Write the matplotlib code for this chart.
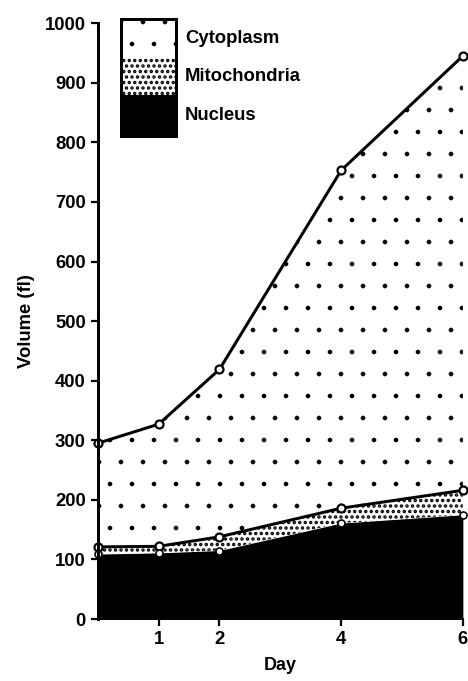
import numpy as np
import matplotlib.pyplot as plt
from matplotlib.patches import Rectangle

plt.rcParams['font.family'] = ['Liberation Sans', 'DejaVu Sans']
plt.rcParams['font.weight'] = 'bold'
plt.rcParams['hatch.color'] = 'black'

# dpi chosen so the '.' hatch spacing matches the sparse stipple of the original
DPI = 132


def px(p):
    # pixels -> points at this dpi
    return p * 72.0 / DPI


# --- data ---
days = [0, 1, 2, 4, 6]
nucleus = [109, 111, 115, 161, 175]
mito_top = [121, 122, 138, 186, 216]
total = [295, 327, 419, 753, 945]

x_ticks = [1, 2, 4, 6]
y_ticks = list(range(0, 1001, 100))

fig = plt.figure(figsize=(468 / DPI, 681 / DPI), dpi=DPI)
ax = fig.add_axes([0.209, 0.091, 0.780, 0.875])


def hatch_lw(artist, lw):
    if hasattr(artist, 'set_hatch_linewidth'):
        artist.set_hatch_linewidth(lw)


CYTO_HLW = px(0.15)
MITO_HLW = px(2.3)

# stacked areas
ax.fill_between(days, 0, nucleus, facecolor='black', edgecolor='black', lw=0)
with plt.rc_context({'hatch.linewidth': MITO_HLW}):
    mito = ax.fill_between(days, nucleus, mito_top, facecolor='white',
                           edgecolor='black', hatch='....', lw=0)
hatch_lw(mito, MITO_HLW)
with plt.rc_context({'hatch.linewidth': CYTO_HLW}):
    cyto = ax.fill_between(days, mito_top, total, facecolor='white',
                           edgecolor='black', hatch='.', lw=0)
hatch_lw(cyto, CYTO_HLW)

mk = dict(marker='o', ms=px(8), mfc='white', mec='black', mew=px(2.2), clip_on=False)
ax.plot(days, total, color='black', lw=px(3), **mk)
ax.plot(days, mito_top, color='black', lw=px(3), **mk)
ax.plot(days, nucleus, color='black', lw=0, marker='o', ms=px(7), mfc='white',
        mec='black', mew=px(1.6), clip_on=False)

ax.set_xlim(0, 6)
ax.set_ylim(0, 1000)
ax.set_xticks(x_ticks)
ax.set_yticks(y_ticks)
ax.tick_params(direction='out', length=px(7), width=px(2.2), labelsize=px(18.5),
               pad=px(5))
for s in ['top', 'right']:
    ax.spines[s].set_visible(False)
ax.spines['left'].set_linewidth(px(3))
ax.spines['bottom'].set_linewidth(px(2))
ax.set_xlabel('Day', fontsize=px(18), fontweight='bold', labelpad=px(9))
ax.set_ylabel('Volume (fl)', fontsize=px(18.5), fontweight='bold', labelpad=px(10))

# legend drawn as stacked swatches
leg_items = ['Cytoplasm', 'Mitochondria', 'Nucleus']
leg_hatch = ['.', '....', None]
leg_hlw = [CYTO_HLW, MITO_HLW, px(1)]
leg_face = ['white', 'white', 'black']
x0, w = 121 / 468, 55 / 468
tops = [19, 58, 95, 136]
for i, lab in enumerate(leg_items):
    y1 = 1 - tops[i + 1] / 681
    h = (tops[i + 1] - tops[i]) / 681
    with plt.rc_context({'hatch.linewidth': leg_hlw[i]}):
        r = Rectangle((x0, y1), w, h, transform=fig.transFigure,
                      facecolor=leg_face[i], edgecolor='black',
                      hatch=leg_hatch[i], lw=0)
    hatch_lw(r, leg_hlw[i])
    fig.add_artist(r)
    fig.text(185 / 468, 1 - (tops[i] + tops[i + 1]) / 2 / 681, lab,
             fontsize=px(18.5), va='center', ha='left')
fig.add_artist(Rectangle((x0, 1 - 136 / 681), w, 117 / 681,
                         transform=fig.transFigure, facecolor='none',
                         edgecolor='black', lw=px(3)))

fig.savefig('out.png', dpi=DPI)
